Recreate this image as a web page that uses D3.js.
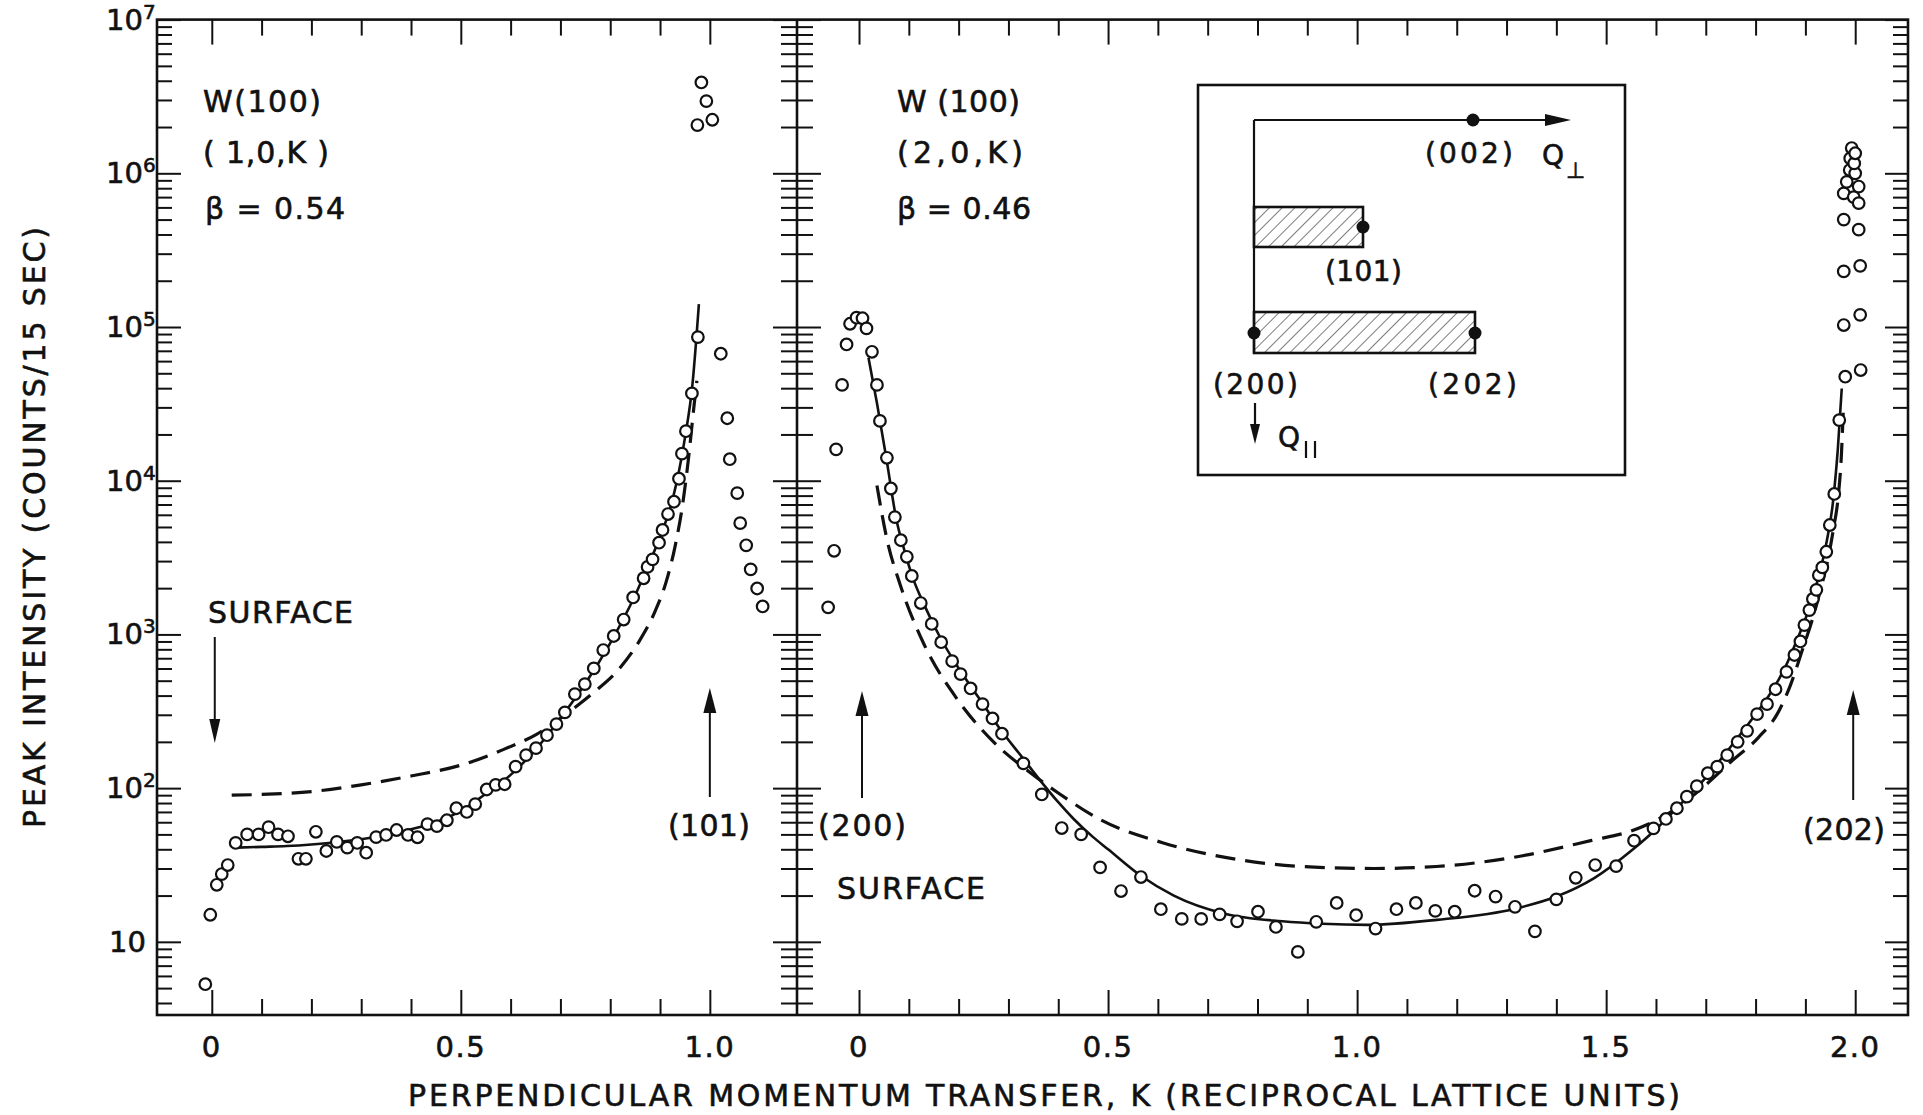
<!DOCTYPE html>
<html>
<head>
<meta charset="utf-8">
<script src="https://cdn.jsdelivr.net/npm/d3@7"></script>
<style>
body{margin:0;background:#fff;}
svg{display:block;background:#fff;}
text{font-family:"DejaVu Sans",sans-serif;fill:#111;stroke:#111;stroke-width:0.6px;}
</style>
</head>
<body>
<svg id="chart" width="1923" height="1115"></svg>
<script>
// ---- data: [K, peak intensity] ----
var leftPoints = [[-0.013,5.3],[-0.003,15],[0.010,23.5],[0.020,27.6],[0.032,31.6],[0.048,44],[0.071,50],[0.094,50],
  [0.114,55.7],[0.133,50],[0.153,48.6],[0.174,34.7],[0.189,34.7],[0.209,52],[0.230,39],[0.251,44.7],[0.272,41],
  [0.292,44],[0.310,38],[0.330,48],[0.350,49.6],[0.371,53.4],[0.394,49.6],[0.413,47.9],[0.433,58.3],[0.452,56.6],
  [0.472,61.8],[0.491,74],[0.512,70],[0.529,78.7],[0.552,98],[0.570,105],[0.588,106],[0.610,138],[0.631,164],
  [0.651,182],[0.673,221],[0.692,261],[0.709,311],[0.729,409],[0.749,475],[0.767,601],[0.786,791],[0.807,977],
  [0.827,1250],[0.846,1740],[0.867,2320],[0.875,2750],[0.885,3080],[0.898,3950],[0.905,4780],[0.916,6070],
  [0.928,7300],[0.938,10300],[0.944,15000],[0.952,21000],[0.964,37000],[0.976,86000],
  [0.975,2.06e6],[0.983,3.9e6],[0.993,2.95e6],[1.005,2.23e6],
  [1.022,67000],[1.035,25500],[1.040,13800],[1.055,8300],[1.061,5300],[1.073,3800],[1.082,2650],[1.095,1990],[1.106,1520]];

var rightPoints = [[-0.062,1500],[-0.050,3500],[-0.046,16000],[-0.034,42000],[-0.025,77000],[-0.018,105000],
  [-0.005,115000],[0.007,114000],[0.015,98000],[0.026,69000],[0.036,42000],[0.042,24500],[0.056,14100],[0.064,8900],
  [0.072,5800],[0.084,4100],[0.096,3200],[0.106,2400],[0.124,1600],[0.146,1170],[0.165,890],[0.187,670],[0.204,552],
  [0.224,445],[0.248,352],[0.268,284],[0.287,226],[0.330,145],[0.367,91],[0.407,55],[0.446,50],[0.484,30.5],
  [0.526,21.4],[0.566,26.4],[0.606,16.3],[0.648,14.1],[0.687,14.1],[0.724,15.1],[0.759,13.6],[0.801,15.7],
  [0.837,12.5],[0.881,8.6],[0.918,13.5],[0.959,17.9],[0.998,14.9],[1.037,12.2],[1.079,16.3],[1.118,17.9],
  [1.157,15.9],[1.196,15.7],[1.236,21.5],[1.278,19.7],[1.317,16.9],[1.357,11.7],[1.400,18.9],[1.439,26.1],
  [1.478,31.6],[1.520,31.1],[1.556,45.5],[1.595,54.7],[1.620,63],[1.642,74],[1.662,88],[1.682,103],[1.704,125],
  [1.723,138],[1.743,164],[1.764,200],[1.783,236],[1.803,303],[1.823,352],[1.840,440],[1.862,571],[1.878,735],
  [1.890,900],[1.898,1150],[1.908,1440],[1.915,1700],[1.922,1950],[1.927,2430],[1.934,2730],[1.942,3450],
  [1.949,5150],[1.958,8200],[1.968,24800],
  [1.980,47500],[2.011,52500],[1.977,103000],[2.010,120000],[1.977,230000],[2.010,250000],[1.977,500000],
  [2.007,430000],[1.977,740000],[1.997,700000],[2.007,640000],[1.983,880000],[2.007,820000],[1.989,1050000],
  [2.000,1000000],[1.990,1250000],[1.998,1160000],[1.993,1460000],[2.000,1350000]];

var leftSolid = [[0.05,41],[0.1,41.5],[0.15,42],[0.2,43],[0.25,44.5],[0.3,46.5],[0.35,49.5],[0.4,54],[0.45,60],
  [0.5,71],[0.55,92],[0.6,122],[0.65,178],[0.7,285],[0.75,479],[0.8,879],[0.85,1800],[0.875,2750],[0.9,4300],
  [0.925,7500],[0.95,19000],[0.965,42000],[0.978,141000]];

var leftDashed = [[0.04,90],[0.1,91],[0.2,95],[0.3,105],[0.4,120],[0.5,141],[0.585,178],[0.652,224],[0.719,316],
  [0.766,417],[0.819,603],[0.859,912],[0.89,1413],[0.913,2239],[0.93,3715],[0.946,7244],[0.958,14790],
  [0.968,30200],[0.974,44700]];

var rightSolid = [[0.019,63000],[0.036,32000],[0.056,13300],[0.075,5600],[0.09,3630],[0.109,2290],[0.13,1580],
  [0.163,955],[0.2,603],[0.24,389],[0.28,251],[0.33,155],[0.364,112],[0.4,81],[0.431,63],[0.47,48],[0.5,40],
  [0.565,27],[0.632,20],[0.732,15.3],[0.85,13.6],[0.93,13.1],[1.02,12.9],[1.16,13.9],[1.32,16.5],[1.4,19.7],
  [1.476,26],[1.554,40],[1.6,54],[1.65,79],[1.7,117],[1.75,186],[1.8,302],[1.84,468],[1.86,617],[1.88,871],
  [1.9,1259],[1.92,1995],[1.94,3630],[1.955,7080],[1.965,15850],[1.973,39800]];

var rightDashed = [[0.036,9300],[0.056,4170],[0.083,2090],[0.13,870],[0.197,380],[0.27,200],[0.344,126],[0.4,93],
  [0.486,62],[0.611,44],[0.768,34],[0.924,30.5],[1.034,30],[1.159,30.9],[1.315,35.5],[1.471,45.7],[1.549,52.5],
  [1.627,69],[1.7,105],[1.75,148],[1.806,214],[1.843,302],[1.87,468],[1.892,759],[1.916,1318],[1.932,2042],
  [1.946,3162],[1.956,4786],[1.966,7943],[1.972,14125],[1.976,28180]];

var leftTickLabels = [[0,"0"],[0.5,"0.5"],[1,"1.0"]];
var rightTickLabels = [[0,"0"],[0.5,"0.5"],[1,"1.0"],[1.5,"1.5"],[2,"2.0"]];
var yExponents = [1,2,3,4,5,6,7];

// ---- layout ----
var svg = d3.select("#chart");
var ink = "#111";
var yTop = 19.6, yBot = 1015;
var xLeftEdge = 157, xMid = 797, xRightEdge = 1908;

var y = d3.scaleLog().domain([Math.pow(10,0.524), 1e7]).range([yBot, yTop]);
var xL = d3.scaleLinear().domain([-0.11, 1.175]).range([xLeftEdge, xMid]);
var xR = d3.scaleLinear().domain([-0.1245, 2.106]).range([xMid, xRightEdge]);

// hatch pattern for the inset
var defs = svg.append("defs");
defs.append("pattern").attr("id","hatch").attr("width",9).attr("height",9)
  .attr("patternUnits","userSpaceOnUse").attr("patternTransform","rotate(45)")
  .append("line").attr("x1",0).attr("y1",0).attr("x2",0).attr("y2",9)
  .attr("stroke","#444").attr("stroke-width",1.4);

// frame
svg.append("rect").attr("x",xLeftEdge).attr("y",yTop)
  .attr("width",xRightEdge-xLeftEdge).attr("height",yBot-yTop)
  .attr("fill","none").attr("stroke",ink).attr("stroke-width",2.6);
svg.append("line").attr("x1",xMid).attr("x2",xMid).attr("y1",yTop).attr("y2",yBot)
  .attr("stroke",ink).attr("stroke-width",2.6);

// y ticks
var yAll = [];
for (var e = 0; e < 7; e++) for (var m = 1; m < 10; m++) yAll.push(m*Math.pow(10,e));
yAll.push(1e7);
yAll = yAll.filter(function(v){ return v >= y.domain()[0] && v <= 1e7; });
var yMajor = yAll.filter(function(v){ return Math.abs(Math.log10(v) - Math.round(Math.log10(v))) < 1e-9; });
var yMinor = yAll.filter(function(v){ return yMajor.indexOf(v) < 0; });

function yAxis(gen, xpos, values, size){
  svg.append("g").attr("transform","translate("+xpos+",0)")
    .call(gen(y).tickValues(values).tickSize(size).tickFormat(""))
    .call(function(g){ g.select(".domain").remove(); });
}
yAxis(d3.axisRight, xLeftEdge, yMinor, 15);
yAxis(d3.axisRight, xLeftEdge, yMajor, 24);
yAxis(d3.axisLeft, xMid, yMinor, 16);
yAxis(d3.axisLeft, xMid, yMajor, 24);
yAxis(d3.axisRight, xMid, yMinor, 16);
yAxis(d3.axisRight, xMid, yMajor, 24);
yAxis(d3.axisLeft, xRightEdge, yMinor, 15);
yAxis(d3.axisLeft, xRightEdge, yMajor, 23);

// x ticks
function isHalf(v){ return Math.abs(v*2 - Math.round(v*2)) < 1e-6; }
function xAxis(scale, maxK){
  var vals = d3.range(0, maxK + 0.001, 0.1).map(function(v){ return Math.round(v*10)/10; });
  var major = vals.filter(isHalf), minor = vals.filter(function(v){ return !isHalf(v); });
  [[minor,16],[major,25]].forEach(function(p){
    svg.append("g").attr("transform","translate(0,"+yBot+")")
      .call(d3.axisTop(scale).tickValues(p[0]).tickSize(p[1]).tickFormat(""))
      .call(function(g){ g.select(".domain").remove(); });
    svg.append("g").attr("transform","translate(0,"+yTop+")")
      .call(d3.axisBottom(scale).tickValues(p[0]).tickSize(p[1]).tickFormat(""))
      .call(function(g){ g.select(".domain").remove(); });
  });
}
xAxis(xL, 1.0);
xAxis(xR, 2.0);
svg.selectAll(".tick line").attr("stroke",ink).attr("stroke-width",2);

// tick labels
leftTickLabels.forEach(function(d){
  svg.append("text").attr("x",xL(d[0])).attr("y",1057).attr("text-anchor","middle")
    .style("font-size","29px").style("letter-spacing","1.5px").text(d[1]);
});
rightTickLabels.forEach(function(d){
  svg.append("text").attr("x",xR(d[0])).attr("y",1057).attr("text-anchor","middle")
    .style("font-size","29px").style("letter-spacing","1.5px").text(d[1]);
});
yExponents.forEach(function(n){
  var yy = y(Math.pow(10,n));
  if (n === 1) {
    svg.append("text").attr("x",146).attr("y",yy+10).attr("text-anchor","end")
      .style("font-size","29px").text("10");
  } else {
    var t = svg.append("text").attr("x",106).attr("y",yy+10).style("font-size","29px");
    t.append("tspan").text("10");
    t.append("tspan").attr("dy",-11).style("font-size","20px").text(n);
  }
});

// axis titles
svg.append("text").attr("x",1044).attr("y",1106).attr("text-anchor","middle")
  .attr("textLength",1272).style("font-size","30px")
  .text("PERPENDICULAR MOMENTUM TRANSFER, K (RECIPROCAL LATTICE UNITS)");
svg.append("text").attr("transform","translate(45,527.5) rotate(-90)").attr("text-anchor","middle")
  .attr("textLength",601).style("font-size","30px")
  .text("PEAK INTENSITY (COUNTS/15 SEC)");

// curves
function curve(xs, data, dashed){
  var line = d3.line().x(function(d){ return xs(d[0]); }).y(function(d){ return y(d[1]); })
    .curve(d3.curveMonotoneX);
  svg.append("path").attr("d", line(data)).attr("fill","none").attr("stroke",ink)
    .attr("stroke-width", dashed ? 3.2 : 2.6)
    .attr("stroke-dasharray", dashed ? "20,10" : null);
}
curve(xL, leftDashed, true);
curve(xL, leftSolid, false);
curve(xR, rightDashed, true);
curve(xR, rightSolid, false);

// data points
function points(xs, data){
  svg.append("g").selectAll("circle").data(data).join("circle")
    .attr("cx", function(d){ return xs(d[0]); }).attr("cy", function(d){ return y(d[1]); })
    .attr("r",5.8).attr("fill","#fff").attr("stroke",ink).attr("stroke-width",2.2);
}
points(xL, leftPoints);
points(xR, rightPoints);

// annotations
function label(x, yy, s, size, len){
  var t = svg.append("text").attr("x",x).attr("y",yy).style("font-size",(size||30)+"px").text(s);
  if (len) t.attr("textLength",len);
  return t;
}
function arrow(x, yFrom, yTip, headLen, headW){
  var dir = yTip > yFrom ? 1 : -1;
  svg.append("line").attr("x1",x).attr("x2",x).attr("y1",yFrom).attr("y2",yTip - dir*headLen*0.6)
    .attr("stroke",ink).attr("stroke-width",2);
  svg.append("path").attr("fill",ink)
    .attr("d","M"+(x-headW/2)+","+(yTip-dir*headLen)+"L"+(x+headW/2)+","+(yTip-dir*headLen)+"L"+x+","+yTip+"Z");
}

label(203,112,"W(100)",30,118);
label(203,163,"( 1,0,K )",30,126);
label(205,219,"\u03B2 = 0.54",30,140);
label(897,112,"W (100)",30,123);
label(897,163,"(2,0,K)",30,126);
label(897,219,"\u03B2 = 0.46",30,134);

label(208,623,"SURFACE",30,145);
arrow(xL(0.006), 637, 743, 24, 11);
label(668,836,"(101)",30,82);
arrow(xL(1.0), 797, 688, 25, 13);

label(818,836,"(200)",30,88);
arrow(xR(0.006), 798, 691, 25, 13);
label(837,899,"SURFACE",30,148);
label(1803,840,"(202)",30,82);
arrow(xR(1.996), 800, 690, 25, 13);

// inset: reciprocal lattice sketch
var inset = svg.append("g");
inset.append("rect").attr("x",1198).attr("y",85).attr("width",427).attr("height",390)
  .attr("fill","#fff").attr("stroke",ink).attr("stroke-width",2.6);
inset.append("rect").attr("x",1254).attr("y",207).attr("width",109).attr("height",40)
  .attr("fill","url(#hatch)").attr("stroke",ink).attr("stroke-width",2.6);
inset.append("rect").attr("x",1254).attr("y",312).attr("width",221).attr("height",41)
  .attr("fill","url(#hatch)").attr("stroke",ink).attr("stroke-width",2.6);
inset.append("line").attr("x1",1254).attr("x2",1254).attr("y1",120).attr("y2",353)
  .attr("stroke",ink).attr("stroke-width",2.2);
inset.append("line").attr("x1",1254).attr("x2",1552).attr("y1",120).attr("y2",120)
  .attr("stroke",ink).attr("stroke-width",2.2);
inset.append("path").attr("fill",ink).attr("d","M1545,114L1571,120L1545,126Z");
[[1473,120],[1363,227],[1254,333],[1475,333]].forEach(function(p){
  inset.append("circle").attr("cx",p[0]).attr("cy",p[1]).attr("r",6.5).attr("fill",ink);
});
inset.append("line").attr("x1",1255).attr("x2",1255).attr("y1",403).attr("y2",428)
  .attr("stroke",ink).attr("stroke-width",2.2);
inset.append("path").attr("fill",ink).attr("d","M1250,424L1260,424L1255,444Z");
label(1425,163,"(002)",28,88);
label(1542,165,"Q",28);
label(1566,178,"\u22A5",22);
label(1325,281,"(101)",28,77);
label(1213,394,"(200)",28,85);
label(1428,394,"(202)",28,89);
label(1278,447,"Q",28);
inset.append("line").attr("x1",1306).attr("x2",1306).attr("y1",441).attr("y2",458).attr("stroke",ink).attr("stroke-width",2.2);
inset.append("line").attr("x1",1315).attr("x2",1315).attr("y1",441).attr("y2",458).attr("stroke",ink).attr("stroke-width",2.2);
</script>
</body>
</html>
